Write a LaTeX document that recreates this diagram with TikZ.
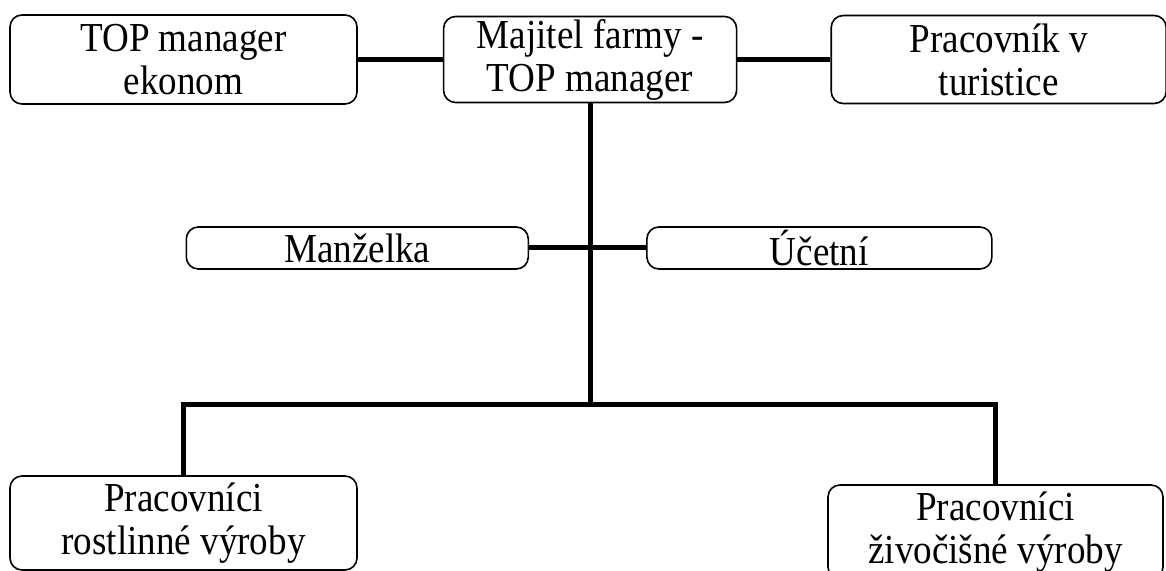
\documentclass[tikz,border=0pt]{standalone}
\usepackage{fontspec}
\setmainfont{Liberation Serif}[FakeStretch=0.9]
\usetikzlibrary{positioning}
\tikzstyle{Box} = [
draw, line width=0.8pt,
rounded corners=6pt,
inner sep=1pt,
align=center,
font=\fontsize{20.6}{21.5}\selectfont]
\tikzstyle{Link} = [line width=2.5pt]

\begin{document}
\begin{tikzpicture}[x=0.5pt, y=-0.5pt]
    \clip (0,0) rectangle (1166,571);
    \node [Box, minimum width=173.5pt, minimum height=44.5pt] (1) at (183.5,59.5) {TOP manager\\ekonom};
    \node [Box, right =42.5pt of 1, minimum width=146.5pt, minimum height=43pt] (2) {Majitel farmy -\\TOP manager};
    \node [Box, right =46.5pt of 2, minimum width=167.5pt, minimum height=44pt] (3) {Pracovník v\\turistice};
    \coordinate (8) at (2.south |- 0,248);
    \coordinate (9) at (2.south |- 0,404);
    \node [Box, left =30.5pt of 8, minimum width=171pt, minimum height=21pt] (4) {Manželka};
    \node [Box, right =28pt of 8, minimum width=172.5pt, minimum height=21pt] (5) {Účetní};
    \node [Box, minimum width=173.5pt, minimum height=47pt] (6) at (183.5,523) {Pracovníci\\rostlinné výroby};
    \node [Box, minimum width=167.5pt, minimum height=47pt] (7) at (995.5,532) {Pracovníci\\živočišné výroby};
    \draw[Link] (1.east) -- (2.west);
    \draw[Link] (2.east) -- (3.west);
    \draw[Link] (2.south) -- (9);
    \draw[Link] (4.east) -- (5.west);
    \draw[Link] (6.north) |- (9) -| (7.north);
\end{tikzpicture}
\end{document}
